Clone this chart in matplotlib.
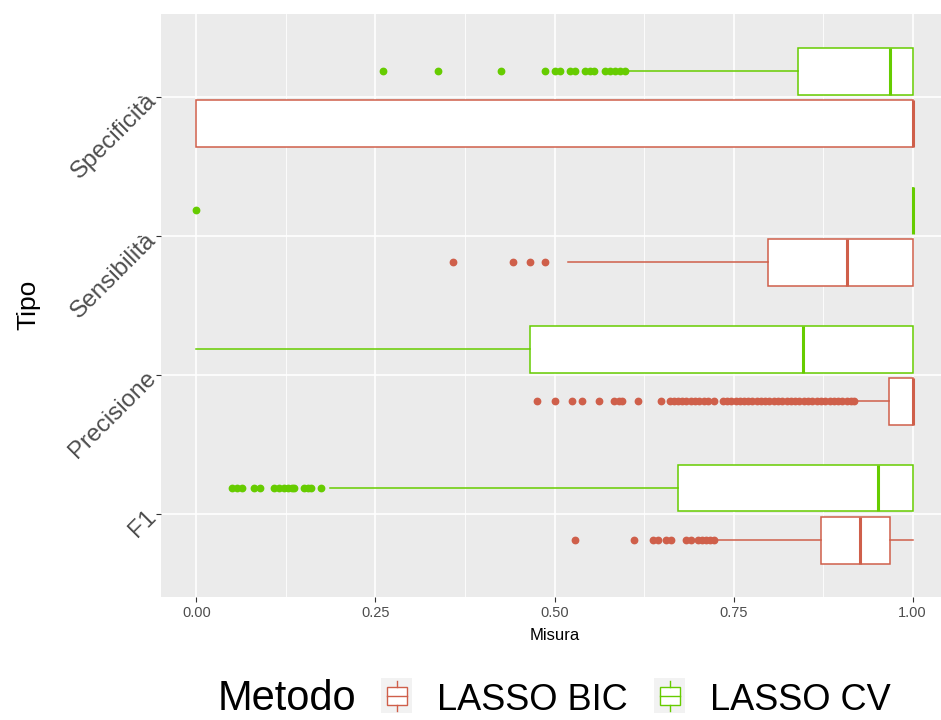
import matplotlib
matplotlib.use("Agg")
import matplotlib.pyplot as plt
from matplotlib.patches import Rectangle
from matplotlib.lines import Line2D

plt.rcParams["font.family"] = ["Liberation Sans", "DejaVu Sans"]

W, H = 941, 720

# ---------- data ----------
categories = ["F1", "Precisione", "Sensibilità", "Specificità"]
methods = ["LASSO BIC", "LASSO CV"]
method_colors = ["#CF5F4A", "#66CC00"]

# box summaries per category (same order as categories)
bic_q1  = [0.872, 0.967, 0.798, 0.000]
bic_med = [0.927, 1.000, 0.909, 1.000]
bic_q3  = [0.968, 1.000, 1.000, 1.000]
bic_wlo = [0.727, 0.920, 0.519, 0.000]
bic_whi = [1.000, 1.000, 1.000, 1.000]
bic_out = [
    [0.529, 0.611, 0.637, 0.644, 0.656, 0.663, 0.684, 0.691, 0.700, 0.706,
     0.712, 0.717, 0.722],
    [0.476, 0.500, 0.524, 0.538, 0.562, 0.583, 0.590, 0.594, 0.617, 0.649,
     0.661, 0.667, 0.672, 0.678, 0.684, 0.690, 0.696, 0.702, 0.708, 0.714,
     0.723, 0.735, 0.741, 0.747, 0.753, 0.759, 0.765, 0.770, 0.776, 0.782,
     0.788, 0.794, 0.800, 0.806, 0.812, 0.818, 0.824, 0.830, 0.836, 0.842,
     0.848, 0.854, 0.860, 0.866, 0.872, 0.878, 0.884, 0.890, 0.896, 0.902,
     0.908, 0.914, 0.918],
    [0.359, 0.442, 0.466, 0.487],
    [],
]

cv_q1  = [0.672, 0.466, 1.000, 0.840]
cv_med = [0.951, 0.847, 1.000, 0.969]
cv_q3  = [1.000, 1.000, 1.000, 1.000]
cv_wlo = [0.186, 0.000, 1.000, 0.602]
cv_whi = [1.000, 1.000, 1.000, 1.000]
cv_out = [
    [0.050, 0.057, 0.064, 0.081, 0.089, 0.109, 0.116, 0.122, 0.128, 0.134,
     0.137, 0.150, 0.156, 0.160, 0.174],
    [],
    [0.000],
    [0.260, 0.337, 0.426, 0.487, 0.500, 0.507, 0.522, 0.529, 0.543, 0.549,
     0.555, 0.571, 0.578, 0.585, 0.592, 0.598],
]

series = [
    (bic_q1, bic_med, bic_q3, bic_wlo, bic_whi, bic_out),
    (cv_q1, cv_med, cv_q3, cv_wlo, cv_whi, cv_out),
]

# ---------- figure ----------
fig = plt.figure(figsize=(W / 100, H / 100), dpi=100)
fig.patch.set_facecolor("white")

def fx(px):
    return px / W

def fy(py):
    return 1 - py / H

ax_left, ax_right, ax_top, ax_bot = 160.5, 948.5, 14.0, 597.4
ax = fig.add_axes([fx(ax_left), fy(ax_bot), (ax_right - ax_left) / W, (ax_bot - ax_top) / H])
ax.set_facecolor("#EBEBEB")
for s in ax.spines.values():
    s.set_visible(False)

offsets = [-0.1875, 0.1875]
box_w = 0.3375
for (q1, med, q3, wlo, whi, out), off, col in zip(series, offsets, method_colors):
    stats = []
    for i in range(len(categories)):
        stats.append(dict(q1=q1[i], med=med[i], q3=q3[i],
                          whislo=wlo[i], whishi=whi[i], fliers=out[i]))
    pos = [i + 1 + off for i in range(len(categories))]
    ax.bxp(stats, positions=pos, widths=box_w, orientation="horizontal",
           showcaps=False, patch_artist=True, manage_ticks=False,
           boxprops=dict(facecolor="white", edgecolor=col, linewidth=1.1),
           medianprops=dict(color=col, linewidth=2.2),
           whiskerprops=dict(color=col, linewidth=1.1),
           flierprops=dict(marker="o", markerfacecolor=col, markeredgecolor=col,
                           markersize=4.6, linestyle="none"))

ax.set_xlim(-0.05, 1.05)
ax.set_ylim(0.4, 4.6)
ax.set_xticks([0, 0.25, 0.5, 0.75, 1.0])
ax.set_xticklabels(["0.00", "0.25", "0.50", "0.75", "1.00"])
ax.set_xticks([0.125, 0.375, 0.625, 0.875], minor=True)
ax.set_yticks([1, 2, 3, 4])
ax.set_yticklabels(categories, rotation=45, ha="right", va="center",
                   rotation_mode="anchor")
ax.set_axisbelow(True)
ax.grid(which="major", color="white", linewidth=1.2)
ax.grid(which="minor", axis="x", color="white", linewidth=0.6)
ax.tick_params(which="minor", length=0)
ax.tick_params(axis="x", which="major", length=3.5, width=0.8, color="#333333",
               labelsize=10.5, labelcolor="#4D4D4D", pad=3)
ax.tick_params(axis="y", which="major", length=3.5, width=0.8, color="#333333",
               labelsize=17.5, labelcolor="#4D4D4D", pad=2)

fig.text(fx(554.5), fy(636), "Misura", ha="center", va="center", fontsize=12)
fig.text(fx(28), fy(305), "Tipo", ha="center", va="center", rotation=90, fontsize=19)

# ---------- legend ----------
fig.text(fx(218), fy(710), "Metodo", ha="left", va="baseline", fontsize=30)
key_x = [381, 654]
lab_x = [437, 710]
for kx, lx, name, col in zip(key_x, lab_x, methods, method_colors):
    fig.add_artist(Rectangle((fx(kx), fy(713)), 31 / W, 35 / H,
                             transform=fig.transFigure, facecolor="#F2F2F2",
                             edgecolor="none"))
    cx = kx + 15.5
    fig.add_artist(Line2D([fx(cx), fx(cx)], [fy(711), fy(705)],
                          transform=fig.transFigure, color=col, linewidth=1.0))
    fig.add_artist(Line2D([fx(cx), fx(cx)], [fy(687), fy(681)],
                          transform=fig.transFigure, color=col, linewidth=1.0))
    fig.add_artist(Rectangle((fx(kx + 5.5), fy(705)), 20 / W, 18 / H,
                             transform=fig.transFigure, facecolor="white",
                             edgecolor=col, linewidth=1.0))
    fig.add_artist(Line2D([fx(kx + 5.5), fx(kx + 25.5)], [fy(696), fy(696)],
                          transform=fig.transFigure, color=col, linewidth=1.0))
    fig.text(fx(lx), fy(710), name, ha="left", va="baseline", fontsize=26)

fig.savefig("out.png", dpi=100)
